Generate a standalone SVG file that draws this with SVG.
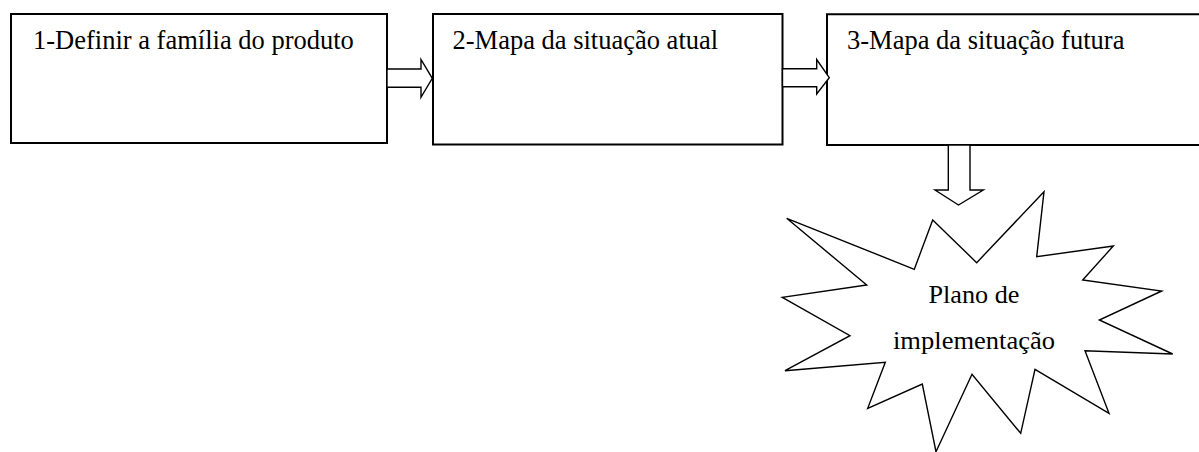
<svg xmlns="http://www.w3.org/2000/svg" width="1199" height="452" viewBox="0 0 1199 452">
<style>
.box{fill:#fff;stroke:#000;stroke-width:2}
.conn{fill:#fff;stroke:#000;stroke-width:1.4;stroke-linejoin:miter}
.lbl{font-family:"Liberation Serif","Times New Roman",serif;font-size:26.5px;fill:#000}
.slbl{font-family:"Liberation Serif","Times New Roman",serif;font-size:24.5px;fill:#000}
.star{fill:#fff;stroke:#000;stroke-width:1.4;stroke-linejoin:miter}
</style>
<rect width="1199" height="452" fill="#fff"/>
<g id="node1">
<rect class="box" x="11" y="14" width="376" height="129"/>
<text class="lbl" x="33" y="49">1-Definir a família do produto</text>
</g>
<g id="node2">
<rect class="box" x="433" y="14" width="349.5" height="130.5"/>
<text class="lbl" x="452.5" y="49">2-Mapa da situação atual</text>
</g>
<g id="node3">
<path class="box" d="M1201,14.3 H827 V145 H1201"/>
<text class="lbl" x="847" y="49">3-Mapa da situação futura</text>
</g>
<g id="node4">
<polygon class="star" points="1044,191.7 1036.7,256.7 1113.3,246 1082.7,280 1161.7,291 1099.3,320 1172.7,354 1085,350.7 1109,413.3 1035,369.3 1020.7,433.3 972,374.3 936,451.7 922.3,384 867.7,408.3 885.3,362.3 785,370.7 850,335.7 782.3,297.3 866.7,285 786.7,218.3 914.3,269.3 932.7,220 976.7,262.7"/>
<text class="slbl" x="974" y="303" text-anchor="middle" textLength="91" lengthAdjust="spacingAndGlyphs">Plano de</text>
<text class="slbl" x="974" y="348.5" text-anchor="middle" textLength="162" lengthAdjust="spacingAndGlyphs">implementação</text>
</g>
<g id="connectors">
<polygon class="conn" points="387,69 421,69 421,59.5 432.3,78.3 421,97.3 421,87.3 387,87.3"/>
<polygon class="conn" points="782.5,68.7 816.7,68.7 816.7,59.5 829.3,77.7 816.7,94 816.7,86.7 782.5,86.7"/>
<polygon class="conn" points="948.3,145 970,145 970,190 983.3,190 958.5,205 935,190 948.3,190"/>
</g>
</svg>
